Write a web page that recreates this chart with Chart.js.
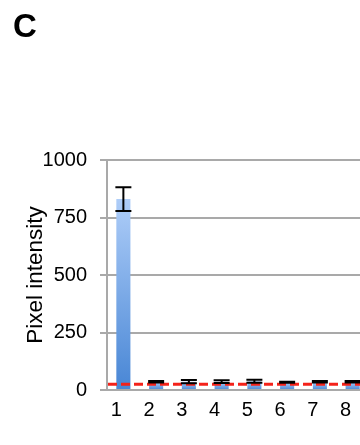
<!DOCTYPE html>
<html>
<head>
<meta charset="utf-8">
<script src="https://cdn.jsdelivr.net/npm/chart.js@4/dist/chart.umd.min.js"></script>
<style>
  html, body { margin: 0; padding: 0; background: #fff; overflow: hidden; }
  #wrap { position: relative; width: 360px; height: 445px; overflow: hidden; background: #fff; }
  #panel { position: absolute; left: 13px; top: 9px; font: bold 33px "Liberation Sans", Arial, sans-serif; line-height: 1; color: #000; }
  canvas { position: absolute; left: 0; top: 0; }
</style>
</head>
<body>
<div id="wrap">
  <canvas id="chart" width="369" height="445" style="width:369px;height:445px"></canvas>
  <div id="panel">C</div>
</div>
<script>
// Lanes and measured mean pixel intensity with its error
const categories = ['1', '2', '3', '4', '5', '6', '7', '8'];
const intensity = [830, 36, 36, 36, 38, 34, 36, 36];
const intensityError = [52, 3, 7, 6, 7, 2, 3, 3];
// Background level shown as the dashed red line
const backgroundLevel = 25;
const yTicks = [0, 250, 500, 750, 1000];

const FONT = '"Liberation Sans", Arial, Helvetica, sans-serif';
const GRID = '#a9a9a9';
const TEXT = '#000';

// Vertical light-to-dark blue fill for each bar
function barFill(ctx) {
  const chart = ctx.chart;
  if (!chart.chartArea || ctx.type !== 'data') return '#6aa0e0';
  const y = chart.scales.y;
  const top = y.getPixelForValue(ctx.raw);
  const bottom = y.getPixelForValue(0);
  if (!isFinite(top) || !isFinite(bottom) || top === bottom) return '#6aa0e0';
  const g = chart.ctx.createLinearGradient(0, top, 0, bottom);
  g.addColorStop(0, '#aecdf8');
  g.addColorStop(1, '#4886d5');
  return g;
}

// Dashed background level and error bars drawn over the bars
const overlay = {
  id: 'overlay',
  afterDatasetsDraw(chart) {
    const { ctx, chartArea, scales: { y } } = chart;
    ctx.save();
    const ly = y.getPixelForValue(backgroundLevel);
    ctx.strokeStyle = '#f4221a';
    ctx.lineWidth = 3;
    ctx.setLineDash([9, 4]);
    ctx.beginPath();
    ctx.moveTo(chartArea.left + 1, ly);
    ctx.lineTo(chartArea.right, ly);
    ctx.stroke();

    ctx.setLineDash([]);
    ctx.strokeStyle = '#000';
    ctx.lineWidth = 2;
    const half = 8;
    chart.getDatasetMeta(0).data.forEach((bar, i) => {
      const cx = bar.x;
      const hi = y.getPixelForValue(intensity[i] + intensityError[i]);
      const lo = y.getPixelForValue(intensity[i] - intensityError[i]);
      ctx.beginPath();
      ctx.moveTo(cx, hi); ctx.lineTo(cx, lo);
      ctx.moveTo(cx - half, hi); ctx.lineTo(cx + half, hi);
      ctx.moveTo(cx - half, lo); ctx.lineTo(cx + half, lo);
      ctx.stroke();
    });
    ctx.restore();
  }
};

new Chart(document.getElementById('chart'), {
  type: 'bar',
  data: {
    labels: categories,
    datasets: [{
      data: intensity,
      backgroundColor: barFill,
      borderWidth: 0,
      barPercentage: 1,
      categoryPercentage: 0.43
    }]
  },
  options: {
    responsive: false,
    animation: false,
    devicePixelRatio: 1,
    layout: { padding: { top: 160, left: 0, right: 0, bottom: 0 } },
    plugins: { legend: { display: false }, tooltip: { enabled: false } },
    scales: {
      x: {
        offset: true,
        afterFit: s => { s.height = 55; },
        border: { display: true, color: GRID, width: 2 },
        grid: { display: false, drawTicks: false },
        ticks: { padding: 8, labelOffset: -7, color: TEXT, font: { size: 20, family: FONT } }
      },
      y: {
        min: 0,
        max: 1000,
        afterFit: s => { s.width = 107; },
        afterBuildTicks: s => { s.ticks = yTicks.map(v => ({ value: v })); },
        border: { display: true, color: GRID, width: 2 },
        grid: { color: GRID, lineWidth: 2, tickLength: 7, drawTicks: true },
        ticks: { padding: 13, color: TEXT, font: { size: 20, family: FONT }, callback: v => String(v) },
        title: {
          display: true,
          text: 'Pixel intensity',
          color: TEXT,
          font: { size: 22.5, family: FONT },
          padding: { top: 22, bottom: 0 }
        }
      }
    }
  },
  plugins: [overlay]
});
</script>
</body>
</html>
